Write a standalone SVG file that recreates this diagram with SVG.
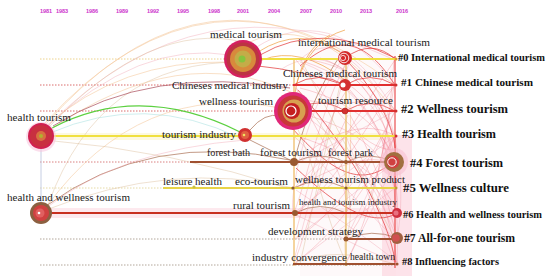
<svg xmlns="http://www.w3.org/2000/svg" width="550" height="276" viewBox="0 0 550 276">
<style>
.yr{font-family:"Liberation Sans",Arial,sans-serif;font-size:5.5px;font-weight:bold;fill:#cc33cc}
.lb{font-family:"Liberation Serif","Times New Roman",serif;font-size:11px;fill:#222}
.cl{font-family:"Liberation Serif","Times New Roman",serif;font-weight:bold;fill:#111}
.row{fill:none;stroke-width:0.8;stroke-dasharray:1.5 1.5}
.a1{fill:none;stroke:#f5c89a;stroke-width:0.8;opacity:0.7}
.a2{fill:none;stroke:#f09aac;stroke-width:0.7;opacity:0.55}
.a3{fill:none;stroke:#e02a2a;stroke-width:0.9;opacity:0.75}
.a4{fill:none;stroke:#d8b890;stroke-width:0.7;opacity:0.6}
.a5{fill:none;stroke:#a03848;stroke-width:0.8;opacity:0.8}
.a8{fill:none;stroke:#f0a040;stroke-width:1;opacity:0.7}
.a9{fill:none;stroke:#a06040;stroke-width:0.8;opacity:0.8}
.ar{fill:none;stroke:#ec5a6a;stroke-width:0.6;opacity:0.45}
.sp{fill:none;stroke-width:1.8}
</style>
<rect width="550" height="276" fill="#ffffff"/>
<g id="axis">
<text class="yr" x="46" y="12.5" text-anchor="middle">1981</text>
<text class="yr" x="62" y="12.5" text-anchor="middle">1983</text>
<text class="yr" x="92" y="12.5" text-anchor="middle">1986</text>
<text class="yr" x="122" y="12.5" text-anchor="middle">1989</text>
<text class="yr" x="153" y="12.5" text-anchor="middle">1992</text>
<text class="yr" x="183" y="12.5" text-anchor="middle">1995</text>
<text class="yr" x="214" y="12.5" text-anchor="middle">1998</text>
<text class="yr" x="243" y="12.5" text-anchor="middle">2001</text>
<text class="yr" x="274" y="12.5" text-anchor="middle">2004</text>
<text class="yr" x="306" y="12.5" text-anchor="middle">2007</text>
<text class="yr" x="336" y="12.5" text-anchor="middle">2010</text>
<text class="yr" x="366" y="12.5" text-anchor="middle">2013</text>
<text class="yr" x="402" y="12.5" text-anchor="middle">2016</text>
</g>
<g id="haze">
<rect x="40" y="208" width="356" height="10" fill="#fde4ea" opacity="0.8"/>
<rect x="40" y="133" width="356" height="7" fill="#fdf7d8" opacity="0.8"/>
<rect x="300" y="45" width="96" height="231" fill="#fbe0e6" opacity="0.2"/>
<rect x="382" y="135" width="30" height="141" fill="#fcd0dc" opacity="0.6"/>
</g>
<g id="rows">
<line class="row" x1="40" y1="59" x2="395" y2="59" stroke="#e8c870"/>
<line class="row" x1="40" y1="85" x2="395" y2="85" stroke="#d04848"/>
<line class="row" x1="40" y1="111" x2="395" y2="111" stroke="#d04848"/>
<line class="row" x1="40" y1="136" x2="395" y2="136" stroke="#e8c870"/>
<line class="row" x1="40" y1="162" x2="395" y2="162" stroke="#d06060"/>
<line class="row" x1="40" y1="188" x2="395" y2="188" stroke="#e0d090"/>
<line class="row" x1="40" y1="213" x2="395" y2="213" stroke="#c89090"/>
<line class="row" x1="40" y1="239" x2="395" y2="239" stroke="#a09080"/>
<line class="row" x1="40" y1="265" x2="395" y2="265" stroke="#a09080"/>
</g>
<g id="connectors">
<path class="a1" d="M45,125 Q190,-40 345,55"/>
<path class="a2" d="M47,127 Q200,-30 395,60"/>
<path class="a4" d="M48,128 Q150,20 243,42"/>
<path class="a2" d="M45,128 Q140,40 230,55"/>
<path class="a1" d="M50,130 Q180,40 293,93"/>
<path class="a1" d="M46,126 Q120,60 228,62"/>
<path class="a1" d="M44,124 Q210,-60 395,85"/>
<path class="a4" d="M48,205 Q100,60 243,62"/>
<path class="a1" d="M47,206 Q140,80 280,108"/>
<path class="a9" d="M46,206 Q150,130 290,160"/>
<path class="a2" d="M46,208 Q120,150 245,140"/>
<path class="a4" d="M45,140 Q170,150 294,190"/>
<path class="a4" d="M46,210 Q170,160 294,188"/>
<path fill="none" stroke="#c0c8e0" stroke-width="0.9" d="M41,149 L41,202"/>
<path class="a5" d="M53,126 Q150,65 290,88"/>
<path fill="none" stroke="#5cd040" stroke-width="1.2" d="M52,128 Q140,82 240,132"/>
<path fill="none" stroke="#a8e0e0" stroke-width="0.8" opacity="0.7" d="M50,133 Q145,92 240,138"/>
<path class="a9" d="M250,130 Q265,112 280,116"/>
<path class="a9" d="M250,140 L294,162"/>
<path class="a8" d="M258,52 Q300,25 340,52"/>
<path class="a3" d="M260,55 Q320,20 395,58"/>
<path class="a2" d="M255,48 Q330,0 395,85"/>
<path class="a8" d="M262,60 Q300,45 345,80"/>
<path class="a3" d="M258,66 Q300,70 345,85"/>
<path class="a1" d="M250,42 Q320,10 393,110"/>
<path class="a8" d="M296,85 Q310,40 345,30"/>
<path class="a8" d="M294,100 Q300,50 330,35"/>
<path class="a3" d="M345,58 Q372,38 395,59"/>
<path class="a3" d="M293,85 Q319,70 345,85"/>
<path class="a3" d="M345,85 Q370,70 395,85"/>
<path class="a3" d="M345,111 Q370,96 395,111"/>
<path class="a3" d="M293,111 Q320,95 345,111"/>
<path class="a9" d="M294,162 Q320,150 346,162"/>
<path class="a9" d="M346,162 Q370,150 393,162"/>
<path class="a9" d="M293,188 Q320,175 346,188"/>
<path class="a9" d="M295,213 Q320,200 346,213"/>
<path class="a9" d="M346,239 Q372,228 397,238"/>
<path class="a4" d="M293,264 Q330,245 395,264"/>
<path class="a2" d="M350,60 C405,100 405,200 397,238"/>
<path class="a3" d="M348,62 C395,110 400,160 393,160"/>
<path class="a2" d="M300,62 C380,90 400,180 397,213"/>
<path class="a2" d="M345,88 C390,120 400,200 397,262"/>
<path class="a2" d="M296,110 C360,150 380,200 397,238"/>
<path class="a4" d="M300,100 C340,140 360,200 346,239"/>
<path class="a4" d="M294,120 C320,180 330,230 346,262"/>
<path class="a2" d="M350,60 C330,120 310,200 294,260"/>
<path class="a1" d="M345,60 C360,150 340,220 346,262"/>
<path class="a2" d="M343,58 C300,120 290,200 293,213"/>
<path class="a3" d="M298,90 C350,150 390,220 395,262" opacity="0.35"/>
<path class="a9" d="M340,56 C310,100 300,140 294,162"/>
<path class="a3" d="M292,128 C330,170 360,190 393,162" opacity="0.5"/>
<path class="a3" d="M296,168 C330,200 370,230 397,213" opacity="0.5"/>
<path class="a2" d="M296,190 C340,220 370,240 397,262"/>
<path class="a2" d="M296,215 C330,230 360,250 397,262"/>
<path class="a3" d="M300,66 C330,40 360,30 395,85" opacity="0.5"/>
<path class="a2" d="M300,60 Q340,20 395,111"/>
<path class="a2" d="M280,70 Q340,30 395,136"/>
<path class="ar" d="M305,62 C360,80 390,120 395,162"/>
<path class="ar" d="M310,60 C370,70 400,110 397,188"/>
<path class="ar" d="M320,58 C375,75 398,140 397,213"/>
<path class="ar" d="M300,88 C350,100 385,130 395,162"/>
<path class="ar" d="M300,113 C340,125 380,140 395,188"/>
<path class="ar" d="M300,137 C340,150 380,170 397,213"/>
<path class="ar" d="M350,90 C375,120 390,150 393,160"/>
<path class="ar" d="M350,115 C370,150 385,190 397,238"/>
<path class="ar" d="M350,140 C370,170 390,210 397,262"/>
<path class="ar" d="M348,60 C320,110 310,170 294,213"/>
<path class="ar" d="M348,88 C320,130 305,200 294,239"/>
<path class="ar" d="M348,115 C325,160 310,220 294,264"/>
<path class="ar" d="M395,60 C360,110 330,170 296,188"/>
<path class="ar" d="M395,85 C365,130 330,190 296,213"/>
<path class="ar" d="M395,111 C370,160 340,210 296,239"/>
<path class="ar" d="M395,136 C370,180 340,230 296,262"/>
<path class="ar" d="M394,60 C390,120 380,200 346,239"/>
<path class="ar" d="M394,85 C385,150 370,220 346,262"/>
<path class="ar" d="M296,60 C330,100 360,150 394,150"/>
<path class="ar" d="M296,88 C320,140 350,180 346,213"/>
<path class="ar" d="M305,100 C360,110 385,90 395,111"/>
<path class="ar" d="M300,160 C330,130 370,120 395,136"/>
<path class="ar" d="M300,185 C330,170 370,150 393,165"/>
<path class="a2" d="M294,165 L395,111"/>
<path class="a2" d="M294,188 L395,85"/>
<path class="a2" d="M294,213 L395,136"/>
<path class="a2" d="M294,239 L395,162"/>
<path class="a2" d="M294,264 L395,188"/>
<path class="a2" d="M346,213 L395,111"/>
<path class="a2" d="M346,239 L395,136"/>
<path class="a2" d="M346,264 L395,162"/>
<path class="a2" d="M294,136 L395,239"/>
<path class="a2" d="M294,85 L395,213"/>
<path class="a2" d="M346,136 L395,264"/>
<path class="a4" d="M300,58 L395,239"/>
<path class="a4" d="M346,58 L300,264"/>
<path fill="none" stroke="#f0c070" stroke-width="1.6" opacity="0.85" d="M294,59 L294,266"/>
<path fill="none" stroke="#e8c070" stroke-width="1.6" opacity="0.85" d="M346,58 L346,266"/>
<path fill="none" stroke="#e84040" stroke-width="1.2" opacity="0.9" d="M395,56 L395,268"/>
<line class="sp" x1="243" y1="59" x2="395" y2="59" stroke="#f0e040"/>
<line class="sp" x1="293" y1="85" x2="395" y2="85" stroke="#e03030" stroke-width="1.2"/>
<line class="sp" x1="293" y1="111" x2="395" y2="111" stroke="#e03030" stroke-width="1.2"/>
<line class="sp" x1="41" y1="136" x2="395" y2="136" stroke="#f0e040" stroke-width="2.2"/>
<line class="sp" x1="190" y1="162" x2="395" y2="162" stroke="#a05030" stroke-width="1.3"/>
<line class="sp" x1="163" y1="188" x2="395" y2="188" stroke="#e8d448" stroke-width="1.3"/>
<line class="sp" x1="41" y1="213" x2="395" y2="213" stroke="#c83020" stroke-width="1.4"/>
<line class="sp" x1="346" y1="239" x2="395" y2="239" stroke="#a05030" stroke-width="1.3"/>
<line class="sp" x1="293" y1="264" x2="395" y2="264" stroke="#a05030" stroke-width="1.3"/>
</g>
<g id="n-medical-tourism">
<circle cx="243" cy="59" r="19" fill="#d42060"/>
<circle cx="243" cy="59" r="16.5" fill="#bc3442"/>
<circle cx="243" cy="59" r="13" fill="#d88a3c"/>
<circle cx="243" cy="59" r="8.5" fill="#c4ac48"/>
<circle cx="242" cy="59" r="3.5" fill="#86c43e"/>
<text class="lb" x="210" y="38" textLength="72" lengthAdjust="spacingAndGlyphs">medical tourism</text>
</g>
<g id="n-international-medical-tourism">
<circle cx="345" cy="58" r="7" fill="#d42a2a"/>
<circle cx="344" cy="58" r="4.8" fill="none" stroke="#ffffff" stroke-width="0.9"/>
<circle cx="343" cy="58" r="2.6" fill="#d42a2a" stroke="#ffffff" stroke-width="0.8"/>
<text class="lb" x="298" y="46" textLength="132" lengthAdjust="spacingAndGlyphs">international medical tourism</text>
</g>
<g id="n-chineses-medical-tourism">
<circle cx="345" cy="85" r="6" fill="#d43030"/>
<circle cx="343" cy="85" r="2.5" fill="#ffffff"/>
<text class="lb" x="283" y="77" textLength="114" lengthAdjust="spacingAndGlyphs">Chineses medical tourism</text>
</g>
<g id="n-chineses-medical-industry">
<text class="lb" x="172" y="88.5" textLength="116" lengthAdjust="spacingAndGlyphs">Chineses medical industry</text>
</g>
<g id="n-wellness-tourism">
<circle cx="293" cy="111" r="19" fill="#e02878"/>
<circle cx="293" cy="111" r="15.5" fill="#c83838"/>
<circle cx="294" cy="111" r="11.5" fill="#d8a050"/>
<circle cx="292" cy="111" r="8" fill="#c42020"/>
<circle cx="291" cy="111" r="5" fill="none" stroke="#ffffff" stroke-width="1.2"/>
<circle cx="290" cy="111" r="3" fill="#c42020"/>
<text class="lb" x="199" y="105" textLength="74" lengthAdjust="spacingAndGlyphs">wellness tourism</text>
</g>
<g id="n-tourism-resource">
<circle cx="345" cy="111" r="3" fill="#d43030" stroke="#a02020" stroke-width="0.6"/>
<text class="lb" x="318" y="104" textLength="75" lengthAdjust="spacingAndGlyphs">tourism resource</text>
</g>
<g id="n-health-tourism">
<circle cx="41" cy="137" r="15" fill="#f8c8e0" opacity="0.6"/>
<circle cx="41" cy="136" r="13" fill="#d02050"/>
<circle cx="41" cy="136" r="11" fill="#c83040"/>
<circle cx="41" cy="136" r="5" fill="#d87040"/>
<circle cx="41" cy="136" r="2" fill="#b0b030"/>
<text class="lb" x="7" y="121" textLength="64" lengthAdjust="spacingAndGlyphs">health tourism</text>
</g>
<g id="n-tourism-industry">
<circle cx="245" cy="135" r="7" fill="#d03030"/>
<circle cx="245" cy="135" r="4" fill="#e06040"/>
<circle cx="244" cy="135" r="1.3" fill="#f0e060"/>
<text class="lb" x="162" y="137.5" textLength="74" lengthAdjust="spacingAndGlyphs">tourism industry</text>
</g>
<g id="n-forest-bath">
<text class="lb" x="207" y="155.5" textLength="43" lengthAdjust="spacingAndGlyphs">forest bath</text>
</g>
<g id="n-forest-tourism">
<circle cx="294" cy="162" r="4" fill="#9a5a30"/>
<text class="lb" x="260" y="155.5" textLength="62" lengthAdjust="spacingAndGlyphs">forest tourism</text>
</g>
<g id="n-forest-park">
<circle cx="346" cy="162" r="2" fill="#9a5a30"/>
<text class="lb" x="328" y="155.5" textLength="45" lengthAdjust="spacingAndGlyphs">forest park</text>
</g>
<g id="n-leisure-health">
<circle cx="194" cy="187" r="1.6" fill="#c8c040"/>
<text class="lb" x="163" y="184.5" textLength="59" lengthAdjust="spacingAndGlyphs">leisure health</text>
</g>
<g id="n-eco-tourism">
<circle cx="293" cy="188" r="1.6" fill="#8a5a30"/>
<text class="lb" x="235" y="184.5" textLength="53" lengthAdjust="spacingAndGlyphs">eco-tourism</text>
</g>
<g id="n-wellness-tourism-product">
<circle cx="346" cy="188" r="1.6" fill="#8a5a30"/>
<text class="lb" x="295" y="183" textLength="110" lengthAdjust="spacingAndGlyphs">wellness tourism product</text>
</g>
<g id="n-health-and-wellness-tourism">
<circle cx="41" cy="213" r="11" fill="#8b6040"/>
<circle cx="41" cy="213" r="8" fill="#d04040"/>
<circle cx="40" cy="213" r="4.5" fill="#e06060"/>
<circle cx="39" cy="213" r="1.3" fill="#ffffff"/>
<text class="lb" x="7" y="200.5" textLength="123" lengthAdjust="spacingAndGlyphs">health and wellness tourism</text>
</g>
<g id="n-rural-tourism">
<circle cx="295" cy="213" r="3" fill="#9a5a30"/>
<text class="lb" x="233" y="208.5" textLength="57" lengthAdjust="spacingAndGlyphs">rural tourism</text>
</g>
<g id="n-health-and-tourism-industry">
<text class="lb" x="299" y="205" style="font-size:9px" textLength="98" lengthAdjust="spacingAndGlyphs">health and tourism industry</text>
</g>
<g id="n-development-strategy">
<circle cx="346" cy="239" r="2.5" fill="#9a5a30"/>
<text class="lb" x="268" y="234.5" textLength="95" lengthAdjust="spacingAndGlyphs">development strategy</text>
</g>
<g id="n-industry-convergence">
<text class="lb" x="252" y="260.5" textLength="95" lengthAdjust="spacingAndGlyphs">industry convergence</text>
</g>
<g id="n-health-town">
<circle cx="346" cy="264" r="1.5" fill="#9a5a30"/>
<text class="lb" x="350" y="259.5" textLength="45" lengthAdjust="spacingAndGlyphs">health town</text>
</g>
<g id="c0">
<circle cx="396" cy="59" r="1.5" fill="#e0a030"/>
<text class="cl" x="398" y="60.5" style="font-size:10.5px" textLength="147" lengthAdjust="spacingAndGlyphs">#0 International medical tourism</text>
</g>
<g id="c1">
<circle cx="396" cy="85" r="1.5" fill="#d03030"/>
<text class="cl" x="401" y="86" style="font-size:11px" textLength="132" lengthAdjust="spacingAndGlyphs">#1 Chinese medical tourism</text>
</g>
<g id="c2">
<circle cx="396" cy="111" r="1.5" fill="#d03030"/>
<text class="cl" x="401" y="112.5" style="font-size:12.5px" textLength="107" lengthAdjust="spacingAndGlyphs">#2 Wellness tourism</text>
</g>
<g id="c3">
<circle cx="396" cy="136" r="1.5" fill="#d03030"/>
<text class="cl" x="402" y="138" style="font-size:12px" textLength="94" lengthAdjust="spacingAndGlyphs">#3 Health tourism</text>
</g>
<g id="c4">
<circle cx="394" cy="162" r="14" fill="#f8c0d0" opacity="0.6"/>
<circle cx="394" cy="162" r="10" fill="#a07040"/>
<circle cx="393" cy="162" r="6.5" fill="#d04040"/>
<circle cx="392" cy="162" r="4.2" fill="none" stroke="#ffffff" stroke-width="1"/>
<circle cx="391" cy="162" r="2.4" fill="#d04040"/>
<text class="cl" x="410" y="167" style="font-size:12.5px" textLength="93" lengthAdjust="spacingAndGlyphs">#4 Forest tourism</text>
</g>
<g id="c5">
<circle cx="396" cy="188" r="1.5" fill="#c0a030"/>
<text class="cl" x="403" y="192" style="font-size:12.5px" textLength="106" lengthAdjust="spacingAndGlyphs">#5 Wellness culture</text>
</g>
<g id="c6">
<circle cx="397" cy="213" r="5" fill="#d03040"/>
<circle cx="396" cy="213" r="2.5" fill="#e87080"/>
<text class="cl" x="403" y="217.5" style="font-size:10.5px" textLength="139" lengthAdjust="spacingAndGlyphs">#6 Health and wellness tourism</text>
</g>
<g id="c7">
<circle cx="397" cy="238" r="6" fill="#a06040"/>
<circle cx="396" cy="238" r="3.8" fill="#d05050"/>
<text class="cl" x="404" y="242" style="font-size:11.5px" textLength="111" lengthAdjust="spacingAndGlyphs">#7 All-for-one tourism</text>
</g>
<g id="c8">
<circle cx="397" cy="264" r="1.6" fill="#a05030"/>
<text class="cl" x="402" y="265" style="font-size:10.5px" textLength="97" lengthAdjust="spacingAndGlyphs">#8 Influencing factors</text>
</g>
</svg>
